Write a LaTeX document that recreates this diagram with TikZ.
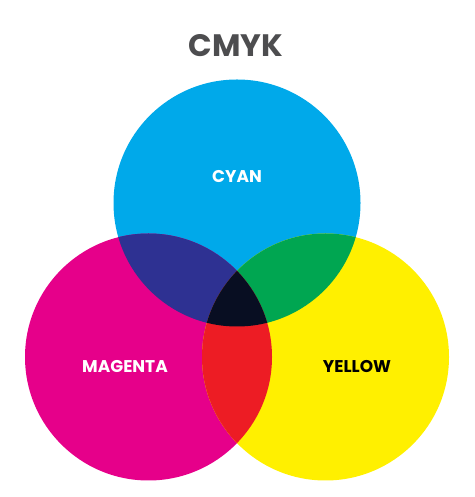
\documentclass[tikz,border=0pt]{standalone}
\usepackage{fontspec}
\setmainfont{Poppins}
\usetikzlibrary{positioning}
\definecolor{inkCyan}{RGB}{0, 169, 234}
\definecolor{inkMagenta}{RGB}{230, 0, 138}
\definecolor{inkYellow}{RGB}{255, 240, 0}
\definecolor{mixBlue}{RGB}{46, 49, 146}
\definecolor{mixGreen}{RGB}{0, 166, 81}
\definecolor{mixRed}{RGB}{237, 28, 36}
\definecolor{mixBlack}{RGB}{8, 14, 34}
\definecolor{titleGray}{RGB}{77, 77, 79}
\tikzset{
    inkLabel/.style={font=\fontsize{17}{20}\selectfont\bfseries, inner sep=0pt},
    titleLabel/.style={font=\fontsize{31}{36}\selectfont\bfseries, text=titleGray, inner sep=0pt},
}
\newcommand{\inkR}{123.5}

\begin{document}
\begin{tikzpicture}[x=1pt, y=1pt]
    \useasboundingbox (0,0) rectangle (474,497);

    % Centres
    \coordinate (cC) at (237,294);
    \coordinate (cM) at (148.5,140);
    \coordinate (cY) at (325.5,140);

    % Single inks
    \fill[inkCyan] (cC) circle (\inkR);
    \fill[inkMagenta] (cM) circle (\inkR);
    \fill[inkYellow] (cY) circle (\inkR);

    % Pair overlaps
    \begin{scope}
        \clip (cC) circle (\inkR);
        \fill[mixBlue] (cM) circle (\inkR);
        \fill[mixGreen] (cY) circle (\inkR);
    \end{scope}
    \begin{scope}
        \clip (cM) circle (\inkR);
        \fill[mixRed] (cY) circle (\inkR);
    \end{scope}

    % Centre overlap
    \begin{scope}
        \clip (cC) circle (\inkR);
        \clip (cM) circle (\inkR);
        \fill[mixBlack] (cY) circle (\inkR);
    \end{scope}

    % Labels
    \node[titleLabel] (title) at (236,451) {CMYK};
    \node[inkLabel, text=white] (cyanLabel) at (237,320) {CYAN};
    \node[inkLabel, text=white] (magentaLabel) at (125,130) {MAGENTA};
    \node[inkLabel, text=black] (yellowLabel) at (357,130) {YELLOW};

\end{tikzpicture}
\end{document}
